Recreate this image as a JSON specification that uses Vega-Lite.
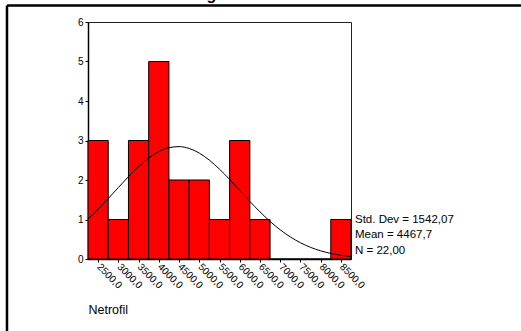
{
  "$schema": "https://vega.github.io/schema/vega-lite/v6.json",
  "autosize": {"type": "none"},
  "width": 263,
  "height": 237,
  "padding": {"left": 88, "top": 22, "right": 170, "bottom": 72},
  "background": "white",
  "config": {
    "view": {"stroke": "#222222", "strokeWidth": 1},
    "font": "Liberation Sans",
    "axis": {"grid": false, "labelOverlap": false, "labelFlush": false, "labelColor": "#000000", "titleColor": "#000000", "tickColor": "#000000", "domainColor": "#000000"},
    "axisX": {"labelAngle": 45, "labelAlign": "left", "labelBaseline": "middle", "labelFontSize": 10, "labelPadding": 3, "tickSize": 3, "domainWidth": 1.5, "titleAnchor": "start", "titleFontWeight": "normal", "titleFontSize": 12.5, "titlePadding": 13},
    "axisY": {"labelFontSize": 10, "labelPadding": 2, "tickSize": 3, "domainWidth": 1.5}
  },
  "datasets": {
    "bins": [
      {"bin_start": 2250, "bin_end": 2750, "count": 3},
      {"bin_start": 2750, "bin_end": 3250, "count": 1},
      {"bin_start": 3250, "bin_end": 3750, "count": 3},
      {"bin_start": 3750, "bin_end": 4250, "count": 5},
      {"bin_start": 4250, "bin_end": 4750, "count": 2},
      {"bin_start": 4750, "bin_end": 5250, "count": 2},
      {"bin_start": 5250, "bin_end": 5750, "count": 1},
      {"bin_start": 5750, "bin_end": 6250, "count": 3},
      {"bin_start": 6250, "bin_end": 6750, "count": 1},
      {"bin_start": 6750, "bin_end": 7250, "count": 0},
      {"bin_start": 7250, "bin_end": 7750, "count": 0},
      {"bin_start": 7750, "bin_end": 8250, "count": 0},
      {"bin_start": 8250, "bin_end": 8750, "count": 1}
    ],
    "curve": [
      {"x": 2250, "y": 1.012}, {"x": 2500, "y": 1.261}, {"x": 2750, "y": 1.530},
      {"x": 3000, "y": 1.809}, {"x": 3250, "y": 2.084}, {"x": 3500, "y": 2.337},
      {"x": 3750, "y": 2.554}, {"x": 4000, "y": 2.718}, {"x": 4250, "y": 2.818},
      {"x": 4500, "y": 2.845}, {"x": 4750, "y": 2.799}, {"x": 5000, "y": 2.681},
      {"x": 5250, "y": 2.502}, {"x": 5500, "y": 2.275}, {"x": 5750, "y": 2.014},
      {"x": 6000, "y": 1.737}, {"x": 6250, "y": 1.459}, {"x": 6500, "y": 1.194},
      {"x": 6750, "y": 0.952}, {"x": 7000, "y": 0.739}, {"x": 7250, "y": 0.559},
      {"x": 7500, "y": 0.412}, {"x": 7750, "y": 0.295}, {"x": 8000, "y": 0.207},
      {"x": 8250, "y": 0.141}, {"x": 8500, "y": 0.093}, {"x": 8750, "y": 0.060}
    ],
    "one": [{}]
  },
  "layer": [
    {
      "data": {"name": "bins"},
      "mark": {"type": "rect", "fill": "#FF0000", "stroke": "#000000", "strokeWidth": 1},
      "encoding": {
        "x": {
          "field": "bin_start", "type": "quantitative",
          "scale": {"domain": [2250, 8750], "nice": false, "zero": false},
          "axis": {
            "values": [2500, 3000, 3500, 4000, 4500, 5000, 5500, 6000, 6500, 7000, 7500, 8000, 8500],
            "labelExpr": "replace(format(datum.value, '.1f'), '.', ',')",
            "labelOverlap": false, "title": "Netrofil"
          }
        },
        "x2": {"field": "bin_end"},
        "y": {
          "field": "count", "type": "quantitative",
          "scale": {"domain": [0, 6], "nice": false},
          "axis": {"values": [0, 1, 2, 3, 4, 5, 6], "format": "d", "labelOverlap": false, "title": null}
        },
        "y2": {"datum": 0}
      }
    },
    {
      "data": {"name": "curve"},
      "mark": {"type": "line", "color": "#000000", "strokeWidth": 1, "interpolate": "monotone"},
      "encoding": {
        "x": {"field": "x", "type": "quantitative", "scale": {"domain": [2250, 8750], "nice": false, "zero": false},
          "axis": {
            "values": [2500, 3000, 3500, 4000, 4500, 5000, 5500, 6000, 6500, 7000, 7500, 8000, 8500],
            "labelExpr": "replace(format(datum.value, '.1f'), '.', ',')",
            "labelOverlap": false, "title": "Netrofil"
          }},
        "y": {"field": "y", "type": "quantitative", "scale": {"domain": [0, 6], "nice": false},
          "axis": {"values": [0, 1, 2, 3, 4, 5, 6], "format": "d", "labelOverlap": false, "title": null}}
      }
    },
    {
      "data": {"name": "one"},
      "mark": {"type": "text", "align": "left", "baseline": "middle", "fontSize": 11.5, "lineHeight": 15.5, "dx": 4, "color": "#000000",
        "text": ["Std. Dev = 1542,07", "Mean = 4467,7", "N = 22,00"]},
      "encoding": {
        "x": {"datum": 8750, "type": "quantitative", "scale": {"domain": [2250, 8750], "nice": false, "zero": false},
          "axis": {
            "values": [2500, 3000, 3500, 4000, 4500, 5000, 5500, 6000, 6500, 7000, 7500, 8000, 8500],
            "labelExpr": "replace(format(datum.value, '.1f'), '.', ',')",
            "labelOverlap": false, "title": "Netrofil"
          }},
        "y": {"datum": 0.99, "type": "quantitative", "scale": {"domain": [0, 6], "nice": false},
          "axis": {"values": [0, 1, 2, 3, 4, 5, 6], "format": "d", "labelOverlap": false, "title": null}}
      }
    },
    {
      "data": {"name": "one"},
      "mark": {"type": "text", "align": "center", "baseline": "alphabetic", "fontSize": 16, "fontWeight": "bold", "color": "#000000", "text": "Histogram"},
      "encoding": {
        "x": {"datum": 5166, "type": "quantitative", "scale": {"domain": [2250, 8750], "nice": false, "zero": false},
          "axis": {
            "values": [2500, 3000, 3500, 4000, 4500, 5000, 5500, 6000, 6500, 7000, 7500, 8000, 8500],
            "labelExpr": "replace(format(datum.value, '.1f'), '.', ',')",
            "labelOverlap": false, "title": "Netrofil"
          }},
        "y": {"datum": 6.545, "type": "quantitative", "scale": {"domain": [0, 6], "nice": false},
          "axis": {"values": [0, 1, 2, 3, 4, 5, 6], "format": "d", "labelOverlap": false, "title": null}}
      }
    },
    {
      "data": {"name": "one"},
      "mark": {"type": "rule", "color": "#000000", "strokeWidth": 2.5},
      "encoding": {
        "x": {"datum": 248, "type": "quantitative", "scale": {"domain": [2250, 8750], "nice": false, "zero": false},
          "axis": {
            "values": [2500, 3000, 3500, 4000, 4500, 5000, 5500, 6000, 6500, 7000, 7500, 8000, 8500],
            "labelExpr": "replace(format(datum.value, '.1f'), '.', ',')",
            "labelOverlap": false, "title": "Netrofil"
          }},
        "y": {"datum": 6.418, "type": "quantitative", "scale": {"domain": [0, 6], "nice": false},
          "axis": {"values": [0, 1, 2, 3, 4, 5, 6], "format": "d", "labelOverlap": false, "title": null}},
        "y2": {"datum": -3}
      }
    },
    {
      "data": {"name": "one"},
      "mark": {"type": "rule", "color": "#000000", "strokeWidth": 2.5},
      "encoding": {
        "x": {"datum": 248, "type": "quantitative", "scale": {"domain": [2250, 8750], "nice": false, "zero": false},
          "axis": {
            "values": [2500, 3000, 3500, 4000, 4500, 5000, 5500, 6000, 6500, 7000, 7500, 8000, 8500],
            "labelExpr": "replace(format(datum.value, '.1f'), '.', ',')",
            "labelOverlap": false, "title": "Netrofil"
          }},
        "x2": {"datum": 20000},
        "y": {"datum": 6.418, "type": "quantitative", "scale": {"domain": [0, 6], "nice": false},
          "axis": {"values": [0, 1, 2, 3, 4, 5, 6], "format": "d", "labelOverlap": false, "title": null}}
      }
    }
  ]
}
